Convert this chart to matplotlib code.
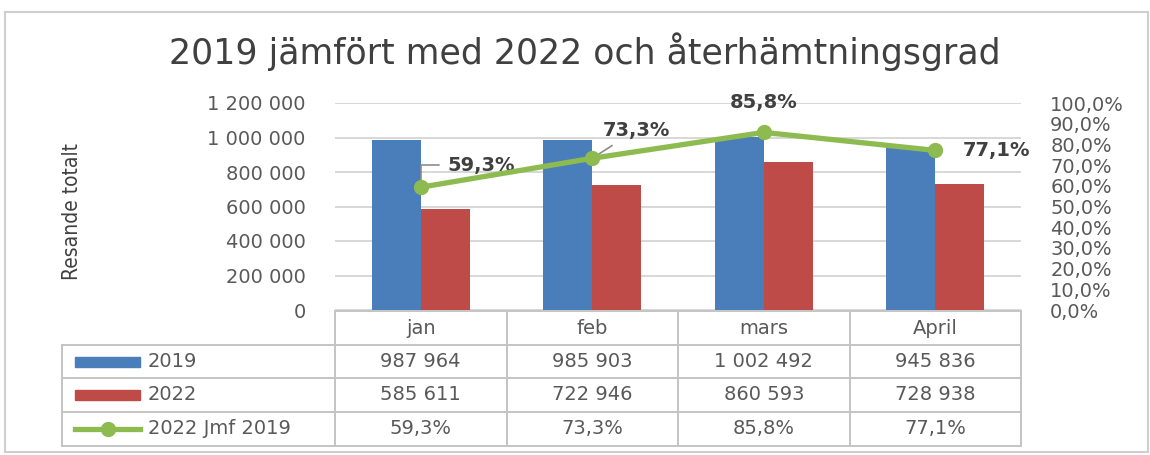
import numpy as np
import matplotlib.pyplot as plt
from matplotlib.transforms import blended_transform_factory
from matplotlib.lines import Line2D
from matplotlib.patches import Rectangle
from matplotlib.ticker import FuncFormatter

months = ["jan", "feb", "mars", "April"]
resande_2019 = [987964, 985903, 1002492, 945836]
resande_2022 = [585611, 722946, 860593, 728938]
jmf_2019 = [59.3, 73.3, 85.8, 77.1]
series_names = ["2019", "2022", "2022 Jmf 2019"]

BLUE = "#4A7EBB"
RED = "#BE4B48"
GREEN = "#8DBB50"
TEXT = "#595959"
LABEL = "#404040"
GRID = "#D4D4D4"
TABLE = "#C4C4C4"

W, H = 1150, 455
plt.rcParams["font.family"] = ["DejaVu Sans"]


def fx(px):
    return px / W


def fy(py):
    return 1 - py / H


def thousands(v):
    return f"{int(v):,}".replace(",", " ")


def pct(v):
    return f"{v:.1f}%".replace(".", ",")


fig = plt.figure(figsize=(W / 100, H / 100), dpi=100)
fig.patch.set_facecolor("white")

# light frame around the whole chart
fig.add_artist(Rectangle((fx(5), fy(452)), fx(1143), 440 / H, transform=fig.transFigure,
                         fill=False, ec="#CFCFCF", lw=1.5))

fig.text(fx(585), fy(52), "2019 jämfört med 2022 och återhämtningsgrad",
         ha="center", va="center", fontsize=25, color=LABEL)

ax = fig.add_axes([fx(335), fy(310), fx(1021 - 335), 207 / H])
x = np.arange(len(months))
bw = 0.285
ax.bar(x - bw / 2, resande_2019, bw, color=BLUE, zorder=2)
ax.bar(x + bw / 2, resande_2022, bw, color=RED, zorder=2)
ax.set_xlim(-0.5, len(months) - 0.5)
ax.set_ylim(0, 1_200_000)
ax.set_yticks(np.arange(0, 1_200_001, 200_000))
ax.yaxis.set_major_formatter(FuncFormatter(lambda v, p: thousands(v)))
ax.set_xticks([])
ax.yaxis.grid(True, color=GRID, lw=1.3)
ax.set_axisbelow(True)
for s in ax.spines.values():
    s.set_visible(False)
ax.tick_params(axis="y", length=0, pad=21, labelsize=14, labelcolor=TEXT)

fig.text(fx(72), fy(212), "Resande totalt", rotation=90, ha="center", va="center",
         fontsize=15, color=LABEL, family=["Liberation Sans Narrow", "DejaVu Sans"],
         fontstretch="condensed")

ax2 = ax.twinx()
ax2.set_ylim(0, 100)
ax2.set_yticks(np.arange(0, 101, 10))
ax2.yaxis.set_major_formatter(FuncFormatter(lambda v, p: pct(v)))
for s in ax2.spines.values():
    s.set_visible(False)
ax2.tick_params(axis="y", length=0, pad=21, labelsize=14, labelcolor=TEXT)
ax2.plot(x, jmf_2019, color=GREEN, lw=3.8, marker="o", ms=10, zorder=3)

# data labels for the recovery line
label_pos = [((27, 22), "left", "angle,angleA=0,angleB=90,rad=0"),
             ((10, 28), "left", "arc3"),
             ((0, 30), "center", None),
             ((28, 0), "left", None)]
for i, v in enumerate(jmf_2019):
    off, ha, conn = label_pos[i]
    arrow = None
    if conn:
        arrow = dict(arrowstyle="-", color="#8C8C8C", lw=1.2, connectionstyle=conn,
                     shrinkA=4, shrinkB=5)
    ax2.annotate(pct(v), xy=(i, v), xytext=off, textcoords="offset pixels",
                 ha=ha, va="center", fontsize=14, fontweight="bold", color=LABEL,
                 arrowprops=arrow, zorder=2)

# data table below the plot
trans = blended_transform_factory(ax.transData, fig.transFigure)
col_w = (1021 - 335) / len(months)
x_left = -0.5 - (335 - 62) / col_w
x_right = len(months) - 0.5
rows = [311, 345, 378, 412, 446]


def tline(xs, ys):
    fig.add_artist(Line2D(xs, ys, transform=trans, color=TABLE, lw=1.4, clip_on=False))


tline([-0.5, x_right], [fy(rows[0])] * 2)
for r in rows[1:]:
    tline([x_left, x_right], [fy(r)] * 2)
tline([x_left, x_left], [fy(rows[1]), fy(rows[-1])])
for c in np.arange(-0.5, len(months)):
    tline([c, c], [fy(rows[0]), fy(rows[-1])])

for i, m in enumerate(months):
    fig.text(i, fy((rows[0] + rows[1]) / 2), m, transform=trans, ha="center", va="center",
             fontsize=14, color=TEXT)

table_rows = [[thousands(v) for v in resande_2019],
              [thousands(v) for v in resande_2022],
              [pct(v) for v in jmf_2019]]
for r, cells in enumerate(table_rows):
    ymid = fy((rows[r + 1] + rows[r + 2]) / 2)
    for i, cell in enumerate(cells):
        fig.text(i, ymid, cell, transform=trans, ha="center", va="center",
                 fontsize=14, color=TEXT)
    fig.text(fx(148), ymid, series_names[r], ha="left", va="center", fontsize=14, color=TEXT)

key_colors = [BLUE, RED]
for r, col in enumerate(key_colors):
    ymid = (rows[r + 1] + rows[r + 2]) / 2
    fig.add_artist(Rectangle((fx(75), fy(ymid + 5)), fx(65), 10 / H,
                             transform=fig.transFigure, color=col))
ymid = fy((rows[3] + rows[4]) / 2)
fig.add_artist(Line2D([fx(75), fx(140)], [ymid, ymid], transform=fig.transFigure,
                      color=GREEN, lw=3.8))
fig.add_artist(Line2D([fx(108)], [ymid], transform=fig.transFigure, color=GREEN,
                      marker="o", ms=10))

fig.savefig("out.png", dpi=100)
